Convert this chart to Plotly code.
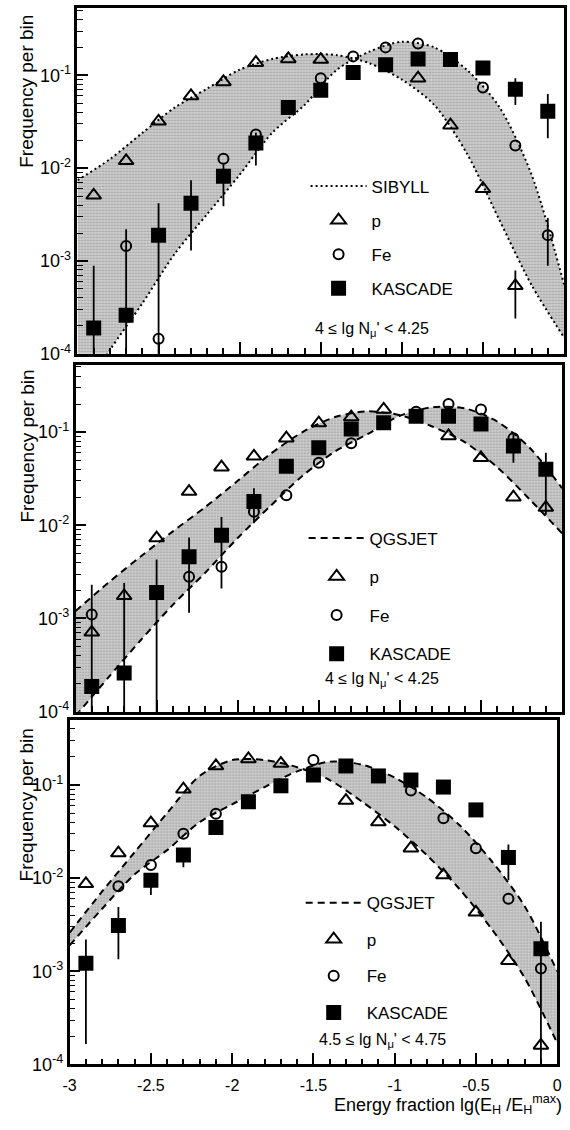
import plotly.graph_objects as go

W, H = 570, 1130

# ---------------- data ----------------
x_bins = [-2.9, -2.7, -2.5, -2.3, -2.1, -1.9, -1.7, -1.5, -1.3, -1.1, -0.9, -0.7, -0.5, -0.3, -0.1]
x_curve = [-3.0, -2.8, -2.6, -2.4, -2.2, -2.0, -1.8, -1.6, -1.4, -1.2, -1.0, -0.8, -0.6, -0.4, -0.2, 0.0]

# Panel 1 : SIBYLL, 4 <= lg Nmu' < 4.25
p1_model_p = [0.0074, 0.0125, 0.024, 0.045, 0.072, 0.115, 0.15, 0.168, 0.165, 0.135, 0.09, 0.048, 0.0145, 0.0028, 5.5e-4, 1.5e-4]
p1_model_fe = [3e-5, 1.1e-4, 3.5e-4, 1.2e-3, 3.2e-3, 8.5e-3, 0.024, 0.048, 0.115, 0.18, 0.23, 0.2, 0.115, 0.046, 0.0085, 5.6e-4]
p1_p = [0.0051, 0.012, 0.032, 0.060, 0.085, 0.137, 0.15, 0.148, None, None, 0.093, 0.029, 0.006, 5.4e-4, None]
p1_p_hi = [None] * 13 + [7.9e-4, None]
p1_p_lo = [None] * 13 + [2.4e-4, None]
p1_fe = [None, 1.45e-3, 1.45e-4, None, 0.0126, 0.023, None, 0.093, 0.16, 0.20, 0.22, None, 0.074, 0.0175, 1.9e-3]
p1_fe_hi = [None] * 14 + [2.9e-3]
p1_fe_lo = [None] * 14 + [8.9e-4]
p1_kas = [1.9e-4, 2.6e-4, 1.9e-3, 4.2e-3, 8.2e-3, 0.0187, 0.045, 0.069, 0.107, 0.13, 0.15, 0.148, 0.12, 0.071, 0.041]
p1_kas_hi = [8.9e-4, 2.2e-3, 4.2e-3, 7.4e-3, 0.011, 0.024, None, None, None, None, None, None, None, 0.093, 0.063]
p1_kas_lo = [1e-5, 1e-5, 1e-5, 1.3e-3, 3.9e-3, 0.0107, None, None, None, None, None, None, None, 0.048, 0.021]

# Panel 2 : QGSJET, 4 <= lg Nmu' < 4.25
p2_model_p = [1.2e-3, 2.4e-3, 4.6e-3, 8.6e-3, 0.0157, 0.030, 0.058, 0.1, 0.145, 0.167, 0.152, 0.115, 0.078, 0.042, 0.019, 0.0082]
p2_model_fe = [9e-5, 2.3e-4, 5.8e-4, 1.4e-3, 3.1e-3, 7.3e-3, 0.016, 0.034, 0.062, 0.095, 0.15, 0.185, 0.18, 0.13, 0.068, 0.025]
p2_p = [7.1e-4, 1.75e-3, 7.3e-3, 0.023, 0.042, 0.055, 0.086, 0.125, 0.145, 0.175, None, 0.091, 0.053, 0.02, 0.0155]
p2_fe = [1.1e-3, None, None, 2.8e-3, 3.6e-3, 0.014, 0.021, 0.047, 0.076, None, 0.165, 0.2, 0.175, 0.086, None]
p2_kas = [1.86e-4, 2.6e-4, 1.9e-3, 4.6e-3, 7.8e-3, 0.018, 0.043, 0.068, 0.108, 0.126, 0.148, 0.148, 0.122, 0.071, 0.04]
p2_kas_hi = [2.3e-3, 2.4e-3, 4.3e-3, 7.4e-3, 0.0123, 0.025, None, None, None, None, None, None, None, 0.095, 0.06]
p2_kas_lo = [1e-5, 1e-5, 1e-5, 1.15e-3, 2.1e-3, 0.0105, None, None, None, None, None, None, None, 0.047, 0.013]

# Panel 3 : QGSJET, 4.5 <= lg Nmu' < 4.75
p3_model_p = [2.6e-3, 7.2e-3, 0.019, 0.05, 0.125, 0.185, 0.185, 0.155, 0.113, 0.066, 0.036, 0.0175, 7.6e-3, 2.8e-3, 8.5e-4, 1.7e-4]
p3_model_fe = [1.9e-3, 4.7e-3, 0.011, 0.02, 0.04, 0.062, 0.095, 0.14, 0.178, 0.165, 0.12, 0.073, 0.037, 0.015, 5e-3, 1e-3]
p3_p = [8.7e-3, 0.0186, 0.039, 0.09, 0.16, 0.19, 0.17, None, 0.068, 0.04, 0.021, 0.0108, 4.3e-3, 1.3e-3, 1.6e-4]
p3_fe = [None, 8.2e-3, 0.0138, 0.03, 0.049, None, None, 0.185, None, None, 0.087, 0.044, 0.021, 6e-3, 1.07e-3]
p3_kas = [1.22e-3, 3.1e-3, 9.5e-3, 0.0177, 0.035, 0.066, 0.098, 0.128, 0.16, 0.125, 0.113, 0.095, 0.054, 0.0167, 1.75e-3]
p3_kas_hi = [2.2e-3, 4.9e-3, 0.011, None, None, None, None, None, None, None, None, None, None, 0.023, 3.4e-3]
p3_kas_lo = [1.66e-4, 1.35e-3, 6.6e-3, 0.0131, None, None, None, None, None, None, None, None, None, 9.5e-3, 1e-5]

model_names = ["SIBYLL", "QGSJET", "QGSJET"]
range_texts = ["4 \u2264 lg N<sub>\u03bc</sub>' < 4.25",
               "4 \u2264 lg N<sub>\u03bc</sub>' < 4.25",
               "4.5 \u2264 lg N<sub>\u03bc</sub>' < 4.75"]
y_tickvals = [1e-4, 1e-3, 1e-2, 1e-1]
y_ticktext = ["10<sup>-4</sup>", "10<sup>-3</sup>", "10<sup>-2</sup>", "10<sup>-1</sup>"]
x_tickvals = [-3, -2.5, -2, -1.5, -1, -0.5, 0]
x_ticktext = ["-3", "-2.5", "-2", "-1.5", "-1", "-0.5", "0"]

# ---------------- layout geometry (pixels) ----------------
ITEMW = 56
panels = [
    dict(x0=72, x1=569, y0=8, y1=357, ytop=-0.274, dash="2px,3px",
         leg=(305, 170), gap=9, title_y=92, txt=(313, 332)),
    dict(x0=70, x1=567, y0=368, y1=718, ytop=-0.277, dash="7px,5px",
         leg=(303, 525), gap=13.5, title_y=450, txt=(323, 686)),
    dict(x0=64, x1=562, y0=726, y1=1074, ytop=-0.298, dash="7px,5px",
         leg=(300, 893), gap=11.5, title_y=812, txt=(317, 1050)),
]

data_sets = [
    (p1_model_p, p1_model_fe, p1_p, p1_p_hi, p1_p_lo, p1_fe, p1_fe_hi, p1_fe_lo, p1_kas, p1_kas_hi, p1_kas_lo),
    (p2_model_p, p2_model_fe, p2_p, None, None, p2_fe, None, None, p2_kas, p2_kas_hi, p2_kas_lo),
    (p3_model_p, p3_model_fe, p3_p, None, None, p3_fe, None, None, p3_kas, p3_kas_hi, p3_kas_lo),
]


def err(y, hi, lo):
    if hi is None:
        return None
    plus = [(h - v) if (h is not None and v is not None) else 0 for v, h in zip(y, hi)]
    minus = [(v - l) if (l is not None and v is not None) else 0 for v, l in zip(y, lo)]
    return dict(type="data", symmetric=False, array=plus, arrayminus=minus,
                color="black", thickness=1.8, width=0)


FONT = "Liberation Sans, Arial, sans-serif"
fig = go.Figure()
annotations = []

for i, (pan, ds) in enumerate(zip(panels, data_sets)):
    n = "" if i == 0 else str(i + 1)
    xa, ya = "x" + n, "y" + n
    leg = "legend" + n
    mp, mfe, pp, pphi, pplo, fe, fehi, felo, kas, kashi, kaslo = ds
    line = dict(color="black", width=2, dash=pan["dash"])
    fig.add_trace(go.Scatter(x=x_curve, y=mp, mode="lines", line=dict(line, shape="spline", smoothing=0.8),
                             name=model_names[i], legend=leg, legendgroup=f"m{i}", legendrank=1,
                             xaxis=xa, yaxis=ya, showlegend=True))
    fig.add_trace(go.Scatter(x=x_curve, y=mfe, mode="lines", line=dict(line, shape="spline", smoothing=0.8),
                             fill="tonexty", fillcolor="rgba(160,160,160,0.6)",
                             fillpattern=dict(shape=".", fgcolor="#6e6e6e", bgcolor="#d2d2d2",
                                              size=3, solidity=0.4),
                             xaxis=xa, yaxis=ya, showlegend=False))
    fig.add_trace(go.Scatter(x=x_bins, y=kas, mode="markers", name="KASCADE", legend=leg,
                             legendgroup=f"k{i}", legendrank=4,
                             marker=dict(symbol="square", size=15, color="black"),
                             error_y=err(kas, kashi, kaslo), xaxis=xa, yaxis=ya))
    fig.add_trace(go.Scatter(x=x_bins, y=pp, mode="markers", name="p", legend=leg,
                             legendgroup=f"p{i}", legendrank=2,
                             marker=dict(symbol="triangle-up-open", size=13, color="black",
                                         line=dict(width=2, color="black")),
                             error_y=err(pp, pphi, pplo), xaxis=xa, yaxis=ya))
    fig.add_trace(go.Scatter(x=x_bins, y=fe, mode="markers", name="Fe", legend=leg,
                             legendgroup=f"f{i}", legendrank=3,
                             marker=dict(symbol="circle-open", size=10, color="black",
                                         line=dict(width=2, color="black")),
                             error_y=err(fe, fehi, felo), xaxis=xa, yaxis=ya))

    xdom = [pan["x0"] / W, pan["x1"] / W]
    ydom = [1 - pan["y1"] / H, 1 - pan["y0"] / H]
    last = (i == 2)
    fig.layout["xaxis" + n] = dict(
        domain=xdom, range=[-3, 0], anchor=ya,
        showline=True, linewidth=2.5, linecolor="black", mirror=True,
        ticks="inside", ticklen=12, tickwidth=1.8, tickcolor="black",
        tickvals=x_tickvals, ticktext=x_ticktext, showticklabels=last,
        ticklabelstandoff=5,
        tickfont=dict(family=FONT, size=16, color="black"),
        minor=dict(ticks="inside", ticklen=6, tickwidth=1.5, tickcolor="black", dtick=0.1, tick0=0),
        showgrid=False, zeroline=False)
    minor_vals = [m * 10 ** e for e in range(-4, 0) for m in range(2, 10)]
    fig.layout["yaxis" + n] = dict(
        domain=ydom, type="log", range=[-4, pan["ytop"]], anchor=xa,
        showline=True, linewidth=2.5, linecolor="black", mirror=True,
        ticks="inside", ticklen=11, tickwidth=1.8, tickcolor="black",
        tickvals=y_tickvals, ticktext=y_ticktext,
        tickfont=dict(family=FONT, size=18, color="black"),
        minor=dict(ticks="inside", ticklen=6, tickwidth=1.3, tickcolor="black", tickvals=minor_vals),
        showgrid=False, zeroline=False)
    lx, ly = pan["leg"]
    fig.layout[leg] = dict(x=lx / W, y=1 - ly / H, xanchor="left", yanchor="top",
                           bgcolor="rgba(0,0,0,0)", font=dict(family=FONT, size=17, color="black"),
                           tracegroupgap=pan["gap"], traceorder="grouped", itemwidth=ITEMW)
    annotations.append(dict(text="Frequency per bin", textangle=-90, xref="paper", yref="paper",
                            x=20 / W, y=1 - pan["title_y"] / H, xanchor="center", yanchor="middle",
                            showarrow=False, font=dict(family=FONT, size=19, color="black")))
    tx, ty = pan["txt"]
    annotations.append(dict(text=range_texts[i], xref="paper", yref="paper",
                            x=tx / W, y=1 - ty / H, xanchor="left", yanchor="middle",
                            showarrow=False, font=dict(family=FONT, size=16, color="black")))

annotations.append(dict(text="Energy fraction lg(E<sub>H</sub> /E<sub>H</sub><sup>max</sup>)",
                        xref="paper", yref="paper", x=569 / W, y=1 - 1129 / H,
                        xanchor="right", yanchor="bottom", showarrow=False,
                        font=dict(family=FONT, size=18, color="black")))

fig.update_layout(width=W, height=H, margin=dict(l=0, r=0, t=0, b=0),
                  paper_bgcolor="white", plot_bgcolor="white",
                  annotations=annotations, font=dict(family=FONT, color="black"))

fig.write_html("out.html")
